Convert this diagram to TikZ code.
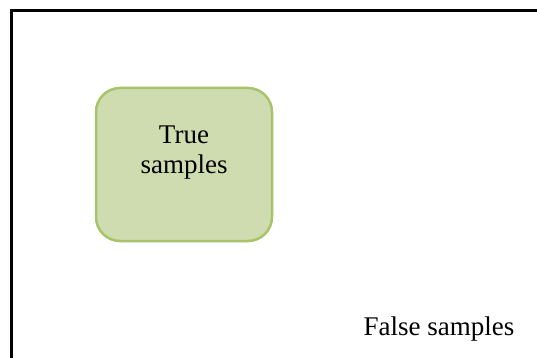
\documentclass[tikz,border=0pt]{standalone}
\usepackage{fontspec}
\setmainfont{Liberation Serif}
\definecolor{boxfill}{HTML}{CFDCB0}
\definecolor{boxline}{HTML}{A7C46A}
\begin{document}
\begin{tikzpicture}[x=1pt,y=-1pt,
  samplebox/.style={draw=boxline, fill=boxfill, line width=2.5pt,
    rounded corners=24pt, minimum width=176pt, minimum height=153pt, inner sep=0pt},
  samplelabel/.style={font=\fontsize{27}{30}\selectfont, align=center, inner sep=0pt, text=black}]
  \useasboundingbox (0,0) rectangle (537,358);
  \clip (0,0) rectangle (537,358);
  % open frame along the top and left edges
  \draw[line width=3pt] (11.5,362) -- (11.5,10.5) -- (541,10.5);
  % rounded box with its label
  \node[samplebox] (truebox) at (184,164.5) {};
  \node[samplelabel, anchor=north] (truelabel) at ([yshift=-39pt]truebox.north) {True\\samples};
  % free label
  \node[samplelabel, anchor=base] (falselabel) at (439,335) {False samples};
\end{tikzpicture}
\end{document}
